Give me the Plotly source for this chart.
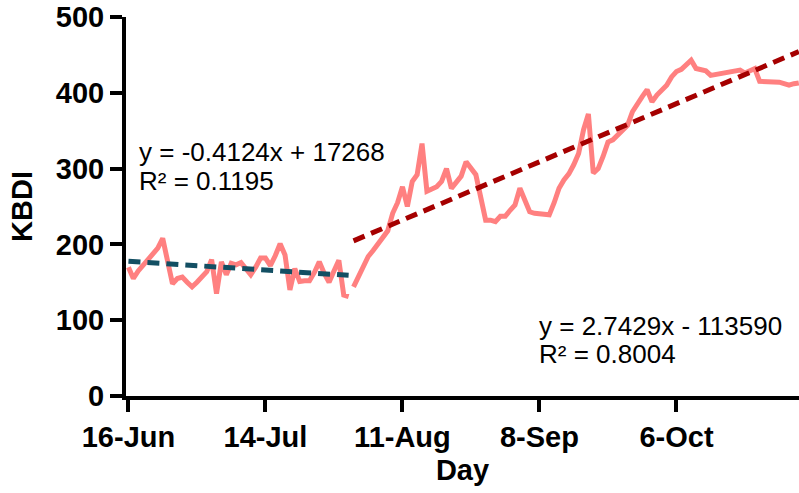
import datetime as dt
import plotly.graph_objects as go

# ---- data (KBDI, daily, 2013) ----
start1 = dt.date(2013, 6, 16)
kbdi_jun_jul = [170, 155, 165, 172, 180, 188, 195, 208, 175, 148,
                155, 157, 150, 144, 150, 156, 164, 180, 135, 177,
                160, 175, 173, 176, 168, 160, 170, 182, 182, 172,
                185, 201, 186, 140, 168, 151, 152, 152, 163, 177,
                162, 150, 165, 179, 133, 131]
start2 = dt.date(2013, 8, 1)
kbdi_aug_oct = [144, 158, 172, 184, 192, 200, 210, 218, 241, 255,
                276, 250, 283, 292, 333, 270, 273, 276, 283, 300,
                274, 283, 290, 309, 300, 292, 262, 232, 232, 230,
                237, 237, 245, 252, 274, 258, 243, 241, 240, 239,
                239, 255, 274, 285, 293, 305, 320, 351, 372, 294,
                300, 316, 335, 338, 344, 349, 357, 375, 386, 395,
                404, 388, 397, 404, 410, 421, 428, 431, 438, 443,
                432, 430, 429, 423, 424, 425, 426, 427, 429, 430,
                426, 429, 432, 415, 415, 415, 415, 414, 412, 410,
                412, 413]

# trendline coefficients (Excel date serials)
slope1, intercept1 = -0.4124, 17268
slope2, intercept2 = 2.7429, -113590
eq1 = ["y = -0.4124x + 17268", "R² = 0.1195"]
eq2 = ["y = 2.7429x - 113590", "R² = 0.8004"]

tick_dates = ["2013-06-16", "2013-07-14", "2013-08-11", "2013-09-08", "2013-10-06"]
tick_labels = ["16-Jun", "14-Jul", "11-Aug", "8-Sep", "6-Oct"]

x1 = [start1 + dt.timedelta(days=i) for i in range(len(kbdi_jun_jul))]
x2 = [start2 + dt.timedelta(days=i) for i in range(len(kbdi_aug_oct))]
epoch = dt.date(1899, 12, 30)
trend1 = [slope1 * (d - epoch).days + intercept1 for d in x1]
trend2 = [slope2 * (d - epoch).days + intercept2 for d in x2]

FONT = "Liberation Sans, Arial, sans-serif"
PINK = "#FF8080"

fig = go.Figure()
fig.add_trace(go.Scatter(x=x1, y=kbdi_jun_jul, mode="lines",
                         line=dict(color=PINK, width=5), showlegend=False))
fig.add_trace(go.Scatter(x=x2, y=kbdi_aug_oct, mode="lines",
                         line=dict(color=PINK, width=5), showlegend=False))
fig.add_trace(go.Scatter(x=x1, y=trend1, mode="lines",
                         line=dict(color="#134F63", width=5, dash="12px,7px"),
                         showlegend=False))
fig.add_trace(go.Scatter(x=x2, y=trend2, mode="lines",
                         line=dict(color="#A50000", width=5, dash="12px,7px"),
                         showlegend=False))

ann_font = dict(family=FONT, size=26, color="black")
annots = [
    ("2013-06-17 18:00", 322, eq1[0]),
    ("2013-06-17 18:00", 284, eq1[1]),
    ("2013-09-07 12:00", 92, eq2[0]),
    ("2013-09-07 12:00", 55, eq2[1]),
]
for x, y, t in annots:
    fig.add_annotation(x=x, y=y, text=t, showarrow=False, xanchor="left",
                       yanchor="middle", font=ann_font)

fig.update_layout(
    width=799, height=493,
    margin=dict(l=126, r=0, t=17, b=97, autoexpand=False),
    plot_bgcolor="white", paper_bgcolor="white",
    font=dict(family=FONT, color="black"),
)
fig.update_xaxes(
    range=["2013-06-15 12:00", "2013-10-31 01:00"],
    tickvals=tick_dates, ticktext=tick_labels,
    tickfont=dict(family=FONT, size=29, color="black", weight="bold"),
    ticks="outside", ticklen=12, tickwidth=4, tickcolor="black",
    showline=True, linewidth=4, linecolor="black", showgrid=False,
    zeroline=False, automargin=False,
    title=dict(text="<b>Day</b>", font=dict(family=FONT, size=29, color="black"),
               standoff=9),
)
fig.update_yaxes(
    range=[0, 500], tickvals=[0, 100, 200, 300, 400, 500],
    tickfont=dict(family=FONT, size=29, color="black", weight="bold"),
    ticks="outside", ticklen=12, tickwidth=4, tickcolor="black",
    showline=True, linewidth=4, linecolor="black", showgrid=False,
    zeroline=False, automargin=False,
    title=dict(text="<b>KBDI</b>", font=dict(family=FONT, size=29, color="black"),
               standoff=16),
)

# remove the page's default 8px body margin so the figure fills the window
fig.write_html("out.html", config={"displayModeBar": False},
               post_script="document.body.style.margin='0';")
